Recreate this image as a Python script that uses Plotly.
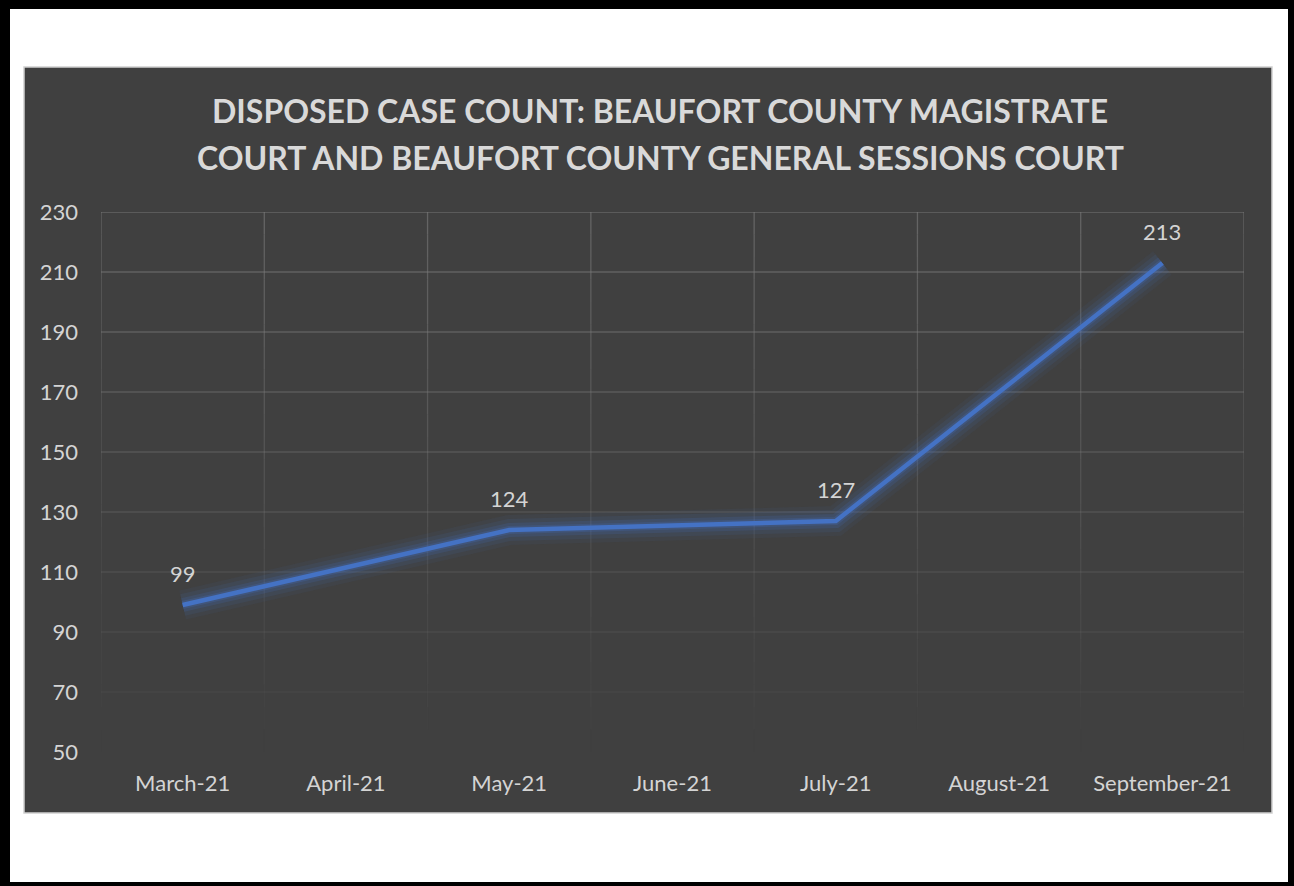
import plotly.graph_objects as go

months = ["March-21", "April-21", "May-21", "June-21", "July-21", "August-21", "September-21"]
case_counts = [99, None, 124, None, 127, None, 213]
y_ticks = [50, 70, 90, 110, 130, 150, 170, 190, 210, 230]
title_lines = ["DISPOSED CASE COUNT: BEAUFORT COUNTY MAGISTRATE",
               "COURT AND BEAUFORT COUNTY GENERAL SESSIONS COURT"]

W, H = 1294, 886
L, R, T, B = 101, 1244, 212, 752
FONT = "Lato"
TXT = "#d4d4d4"
LINE = "#4472C4"


def px_x(p):
    return (p - L) / (R - L)


def px_y(p):
    return (B - p) / (B - T)


fig = go.Figure()

# glow layers
for w, a in [(30, 0.06), (22, 0.10), (14, 0.16), (8, 0.22)]:
    fig.add_trace(go.Scatter(x=months, y=case_counts, mode="lines", connectgaps=True,
                             line=dict(color=f"rgba(68,114,196,{a})", width=w),
                             hoverinfo="skip", showlegend=False))
fig.add_trace(go.Scatter(x=months, y=case_counts, mode="lines", connectgaps=True,
                         line=dict(color=LINE, width=4.5),
                         hoverinfo="skip", showlegend=False))

shapes = []
# dark chart area
shapes.append(dict(type="rect", xref="paper", yref="paper", layer="below",
                   x0=px_x(24), x1=px_x(1272), y0=px_y(813), y1=px_y(67),
                   fillcolor="#404040", line=dict(color="#d0d0d0", width=1.5)))

# fading gridlines (horizontal)
ymin, ymax = y_ticks[0], y_ticks[-1]
for yv in y_ticks[1:]:
    frac = (yv - ymin) / (ymax - ymin)
    a = 0.05 + 0.55 * frac
    shapes.append(dict(type="line", xref="x", yref="y", layer="below",
                       x0=-0.5, x1=len(months) - 0.5, y0=yv, y1=yv,
                       line=dict(color=f"rgba(125,125,125,{a:.3f})", width=1.3)))
# fading gridlines (vertical, at category boundaries)
nseg = 24
for i in range(len(months) + 1):
    xb = i - 0.5
    for s in range(nseg):
        y0 = ymin + (ymax - ymin) * s / nseg
        y1 = ymin + (ymax - ymin) * (s + 1) / nseg
        frac = (s + 0.5) / nseg
        a = 0.0 + 0.6 * frac
        shapes.append(dict(type="line", xref="x", yref="y", layer="below",
                           x0=xb, x1=xb, y0=y0, y1=y1,
                           line=dict(color=f"rgba(125,125,125,{a:.3f})", width=1.3)))

# black outer frame
for x0, x1, y0, y1 in [(0, 10, 0, H), (1288, W, 0, H), (0, W, 0, 9), (0, W, 882, H)]:
    shapes.append(dict(type="rect", xref="paper", yref="paper", layer="above",
                       x0=px_x(x0), x1=px_x(x1), y0=px_y(y1), y1=px_y(y0),
                       fillcolor="black", line=dict(width=0)))

annotations = []
for m, v in zip(months, case_counts):
    if v is None:
        continue
    annotations.append(dict(x=m, y=v, xref="x", yref="y", text=str(v), showarrow=False,
                            yshift=32, font=dict(family=FONT, size=22, color=TXT)))
for k, line_txt in enumerate(title_lines):
    annotations.append(dict(x=px_x(660), y=px_y(110 + 47 * k), xref="paper", yref="paper",
                            text=f"<b>{line_txt}</b>", showarrow=False,
                            xanchor="center", yanchor="middle",
                            font=dict(family=FONT, size=32, color="#d9d9d9")))

fig.update_layout(
    width=W, height=H,
    margin=dict(l=L, r=W - R, t=T, b=H - B, pad=0),
    paper_bgcolor="white",
    plot_bgcolor="rgba(0,0,0,0)",
    shapes=shapes,
    annotations=annotations,
    showlegend=False,
    xaxis=dict(type="category", categoryorder="array", categoryarray=months,
               range=[-0.5, len(months) - 0.5], showgrid=False, zeroline=False,
               showline=False, ticks="", ticklabelstandoff=16,
               tickfont=dict(family=FONT, size=22, color=TXT), fixedrange=True),
    yaxis=dict(range=[ymin, ymax], tickvals=y_ticks, ticktext=[str(t) for t in y_ticks],
               showgrid=False, zeroline=False, showline=False, ticks="",
               ticklabelstandoff=22,
               tickfont=dict(family=FONT, size=22, color=TXT), fixedrange=True),
)

fig.write_html("out.html")
